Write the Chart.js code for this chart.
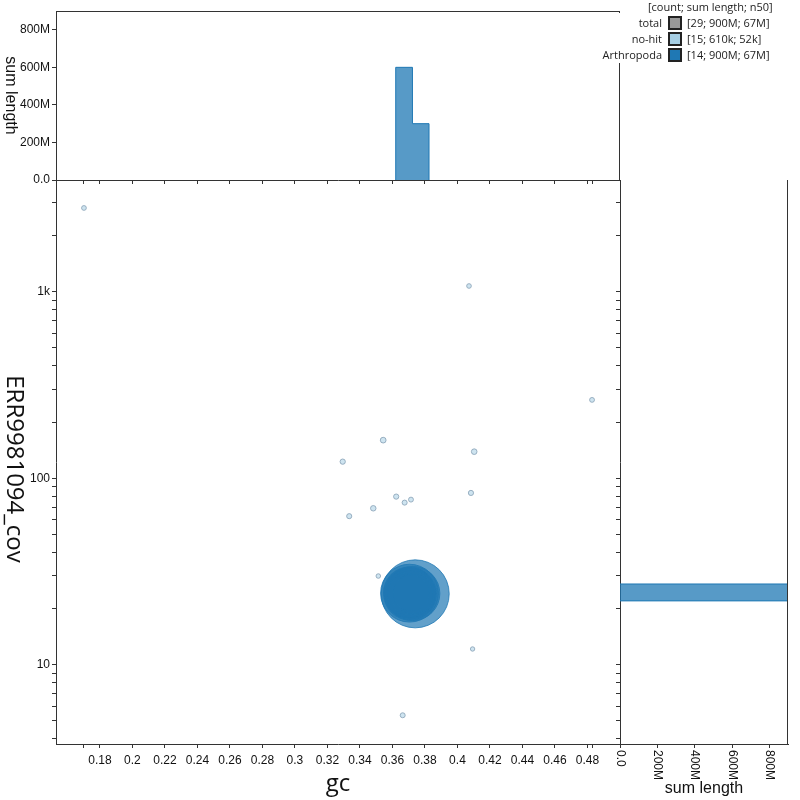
<!DOCTYPE html>
<html>
<head>
<meta charset="utf-8">
<title>ERR9981094 blob plot</title>
<script src="https://cdn.jsdelivr.net/npm/chart.js@4.4.1/dist/chart.umd.min.js"></script>
<style>
  html, body { margin: 0; padding: 0; background: #fff; }
  #wrap { position: relative; width: 800px; height: 800px; overflow: hidden; }
  #wrap canvas { position: absolute; left: 0; top: 0; }
  #legendBg { position: absolute; left: 598px; top: 13px; width: 200px; height: 50px; background: #fff; }
  .lg { position: absolute; font: 11px "Open Sans", sans-serif; color: #222; line-height: 14px; white-space: nowrap; }
  .lg-name { text-align: right; }
  .lg-box { position: absolute; width: 14px; height: 14px; box-sizing: border-box; border: 2px solid #222; }
</style>
</head>
<body>
<div id="wrap">
  <canvas id="topHist" width="800" height="800"></canvas>
  <canvas id="sideHist" width="800" height="800"></canvas>
  <canvas id="blobPlot" width="800" height="800"></canvas>
  <div id="legendBg"></div>
  <div id="legend"></div>
</div>
<script>
// contigs, no-hit
var noHitGc  = [0.1702, 0.4071, 0.4828, 0.3543, 0.3294, 0.4103, 0.4083, 0.3623, 0.3675, 0.3714, 0.3482, 0.3334, 0.3513, 0.4093, 0.3663];
var noHitCov = [2811, 1073, 263, 160, 122.7, 138.8, 83.4, 79.7, 74.0, 76.8, 69.0, 62.6, 29.9, 12.15, 5.36];
var noHitLen = [20e3, 15e3, 24e3, 98e3, 52e3, 85e3, 45e3, 48e3, 36e3, 28e3, 72e3, 40e3, 10e3, 5e3, 32e3];

// contigs, Arthropoda (largest first)
var arthLen = [130e6, 92e6, 80e6, 75e6, 70e6, 67e6, 62e6, 58e6, 54e6, 50e6, 46e6, 44e6, 40e6, 31.7e6];
var arthGc  = [0.3740, 0.3705, 0.3725, 0.3708, 0.3702, 0.3712, 0.3700, 0.3714, 0.3706, 0.3730, 0.3710, 0.3698, 0.3727, 0.3716];
var arthCov = [24.0, 24.2, 24.1, 24.0, 24.4, 23.9, 24.1, 24.5, 23.8, 24.3, 24.6, 23.9, 24.0, 24.2];

// histograms (sum length per bin)
var gcBinEdges = [0.362, 0.3723, 0.3825];
var gcBinSums = [600e6, 300e6];
var covBinEdges = [22.0, 27.1];
var covBinSums = [900e6];

// axes
var gcTicks = [0.18, 0.2, 0.22, 0.24, 0.26, 0.28, 0.3, 0.32, 0.34, 0.36, 0.38, 0.4, 0.42, 0.44, 0.46, 0.48];
var covTicks = [4, 5, 6, 7, 8, 9, 10, 20, 30, 40, 50, 60, 70, 80, 90, 100, 200, 300, 400, 500, 600, 700, 800, 900, 1000, 2000, 3000];
var covTickLabels = { 10: '10', 100: '100', 1000: '1k' };
var lengthTicks = [0, 2e8, 4e8, 6e8, 8e8];

var GC_MIN = 0.153, GC_MAX = 0.50;
var COV_MIN = 3.76, COV_MAX = 3970;
var LEN_MAX = 900e6;

var AXIS = '#333';
var TEXT = '#111';
var TICK_FONT = { family: '"Liberation Sans", Arial, sans-serif', size: 12 };
var ARTH = '#1f78b4';
var NOHIT = '#a6cee3';

var allGc = noHitGc.concat(arthGc);
var gcDomain = [Math.min.apply(null, allGc), Math.max.apply(null, allGc)];
var maxLen = Math.max.apply(null, arthLen.concat(noHitLen));

function radiusFor(len) { return 2 + 32 * Math.sqrt(len / maxLen); }
function fmtGc(v) { return String(Math.round(v * 100) / 100); }
function fmtLen(v) {
  if (v === 0) return '0.0';
  if (v >= 1e6) return Math.round(v / 1e6) + 'M';
  return Math.round(v / 1e3) + 'k';
}
function sum(a) { return a.reduce(function (s, v) { return s + v; }, 0); }
function n50(lens) {
  var s = lens.slice().sort(function (a, b) { return b - a; });
  var half = sum(s) / 2, acc = 0;
  for (var i = 0; i < s.length; i++) { acc += s[i]; if (acc >= half) return s[i]; }
  return 0;
}

function gcAxisTicks(scale) {
  scale.ticks = gcTicks.concat(gcDomain).sort(function (a, b) { return a - b; })
    .map(function (v) { return { value: v }; });
}
function gcTickLabel(v) {
  return gcTicks.some(function (t) { return Math.abs(t - v) < 1e-9; }) ? fmtGc(v) : '';
}
function covAxisTicks(scale) {
  scale.ticks = covTicks.map(function (v) { return { value: v }; });
}
function lenAxisTicks(scale) {
  scale.ticks = lengthTicks.map(function (v) { return { value: v }; });
}

var framePlugin = {
  id: 'frame',
  afterDraw: function (chart, args, opts) {
    var a = chart.chartArea, ctx = chart.ctx;
    ctx.save();
    ctx.strokeStyle = AXIS;
    ctx.lineWidth = 1;
    ctx.beginPath();
    if (opts.top) { ctx.moveTo(a.left, Math.round(a.top) + 0.5); ctx.lineTo(a.right, Math.round(a.top) + 0.5); }
    if (opts.right) { ctx.moveTo(Math.round(a.right) - 0.5, a.top); ctx.lineTo(Math.round(a.right) - 0.5, a.bottom); }
    ctx.stroke();
    ctx.restore();
  }
};

var vTitlePlugin = {
  id: 'vTitle',
  afterDraw: function (chart, args, opts) {
    if (!opts.text) return;
    var a = chart.chartArea, ctx = chart.ctx;
    ctx.save();
    ctx.font = opts.font;
    ctx.fillStyle = TEXT;
    ctx.textAlign = 'center';
    ctx.textBaseline = 'middle';
    ctx.translate(opts.x, (a.top + a.bottom) / 2 + (opts.shift || 0));
    ctx.rotate(Math.PI / 2);
    ctx.fillText(opts.text, 0, 0);
    ctx.restore();
  }
};

var rotLabelsPlugin = {
  id: 'rotLabels',
  afterDraw: function (chart) {
    var s = chart.scales.x, ctx = chart.ctx;
    ctx.save();
    ctx.font = '12px "Liberation Sans", Arial, sans-serif';
    ctx.fillStyle = TEXT;
    ctx.textAlign = 'left';
    ctx.textBaseline = 'middle';
    lengthTicks.forEach(function (v) {
      ctx.save();
      ctx.translate(s.getPixelForValue(v), s.top + 6);
      ctx.rotate(Math.PI / 2);
      ctx.fillText(fmtLen(v), 0, 0);
      ctx.restore();
    });
    ctx.restore();
  }
};

function axisGrid(len) {
  return { drawOnChartArea: false, drawTicks: true, tickLength: len, color: AXIS };
}

// top histogram: sum length by gc
var topPts = [{ x: gcBinEdges[0], y: 0 }];
gcBinSums.forEach(function (s, i) { topPts.push({ x: gcBinEdges[i], y: s }); });
topPts.push({ x: gcBinEdges[gcBinEdges.length - 1], y: 0 });

new Chart(document.getElementById('topHist'), {
  type: 'line',
  data: {
    datasets: [{
      data: topPts,
      stepped: true,
      fill: 'origin',
      borderColor: ARTH,
      borderWidth: 1,
      backgroundColor: 'rgba(31,120,180,0.75)',
      pointRadius: 0
    }]
  },
  options: {
    responsive: false,
    animation: false,
    events: [],
    layout: { padding: { left: 0, top: 11, right: 180, bottom: 620 } },
    plugins: {
      legend: { display: false },
      tooltip: { enabled: false },
      frame: { top: true, right: true },
      vTitle: { text: 'sum length', font: '16px "Liberation Sans", Arial, sans-serif', x: 10 }
    },
    scales: {
      x: {
        type: 'linear', min: GC_MIN, max: GC_MAX,
        afterBuildTicks: gcAxisTicks,
        afterFit: function (s) { s.height = 0; },
        ticks: { display: false },
        grid: axisGrid(4),
        border: { color: AXIS }
      },
      y: {
        type: 'linear', min: 0, max: LEN_MAX,
        afterBuildTicks: lenAxisTicks,
        afterFit: function (s) { s.width = 56; },
        ticks: { font: TICK_FONT, color: TEXT, padding: 2, callback: function (v) { return fmtLen(v); } },
        grid: axisGrid(4),
        border: { color: AXIS }
      }
    }
  },
  plugins: [framePlugin, vTitlePlugin]
});

// side histogram: sum length by coverage
var sideSets = [];
covBinSums.forEach(function (s, i) {
  sideSets.push({
    data: [{ x: 0, y: covBinEdges[i + 1] }, { x: s, y: covBinEdges[i + 1] }],
    fill: '+1',
    borderColor: ARTH, borderWidth: 1,
    backgroundColor: 'rgba(31,120,180,0.75)',
    pointRadius: 0
  });
  sideSets.push({
    data: [{ x: 0, y: covBinEdges[i] }, { x: s, y: covBinEdges[i] }],
    fill: false,
    borderColor: ARTH, borderWidth: 1,
    pointRadius: 0
  });
});

new Chart(document.getElementById('sideHist'), {
  type: 'line',
  data: { datasets: sideSets },
  options: {
    responsive: false,
    animation: false,
    events: [],
    layout: { padding: { left: 620, top: 180, right: 12, bottom: 0 } },
    plugins: {
      legend: { display: false },
      tooltip: { enabled: false },
      frame: { right: true }
    },
    scales: {
      x: {
        type: 'linear', min: 0, max: LEN_MAX,
        afterBuildTicks: lenAxisTicks,
        afterFit: function (s) { s.height = 56; },
        ticks: { display: false },
        grid: axisGrid(4),
        border: { color: AXIS },
        title: { display: true, text: 'sum length', color: TEXT, font: { family: '"Liberation Sans", Arial, sans-serif', size: 16 }, padding: { top: 0, bottom: 2 } }
      },
      y: {
        type: 'logarithmic', min: COV_MIN, max: COV_MAX,
        afterBuildTicks: covAxisTicks,
        afterFit: function (s) { s.width = 0; },
        ticks: { display: false },
        grid: axisGrid(4),
        border: { color: AXIS }
      }
    }
  },
  plugins: [framePlugin, rotLabelsPlugin]
});

// main blob plot
function points(gc, cov) {
  return gc.map(function (g, i) { return { x: g, y: cov[i] }; });
}

new Chart(document.getElementById('blobPlot'), {
  type: 'scatter',
  data: {
    datasets: [{
      label: 'no-hit',
      data: points(noHitGc, noHitCov),
      backgroundColor: 'rgba(166,206,227,0.55)',
      borderColor: 'rgba(140,165,185,0.85)',
      borderWidth: 1,
      pointRadius: function (c) { return radiusFor(noHitLen[c.dataIndex]); }
    }, {
      label: 'Arthropoda',
      data: points(arthGc, arthCov),
      backgroundColor: 'rgba(31,120,180,0.7)',
      borderColor: 'rgba(31,120,180,0.8)',
      borderWidth: 1,
      pointRadius: function (c) { return radiusFor(arthLen[c.dataIndex]); }
    }]
  },
  options: {
    responsive: false,
    animation: false,
    events: [],
    layout: { padding: { left: 0, top: 180, right: 180, bottom: 0 } },
    plugins: {
      legend: { display: false },
      tooltip: { enabled: false },
      vTitle: { text: 'ERR9981094_cov', font: '24px "Open Sans", sans-serif', x: 14, shift: 7 }
    },
    scales: {
      x: {
        type: 'linear', min: GC_MIN, max: GC_MAX,
        afterBuildTicks: gcAxisTicks,
        afterFit: function (s) { s.height = 56; },
        ticks: { font: TICK_FONT, color: TEXT, padding: 5, autoSkip: false, maxRotation: 0, callback: gcTickLabel },
        grid: axisGrid(4),
        border: { color: AXIS },
        title: { display: true, text: 'gc', color: TEXT, font: { family: '"Open Sans", sans-serif', size: 24 }, padding: { top: 0, bottom: 1 } }
      },
      y: {
        type: 'logarithmic', min: COV_MIN, max: COV_MAX,
        afterBuildTicks: covAxisTicks,
        afterFit: function (s) { s.width = 56; },
        ticks: { font: TICK_FONT, color: TEXT, padding: 2, autoSkip: false, callback: function (v) { return covTickLabels[v] || ''; } },
        grid: axisGrid(4),
        border: { color: AXIS }
      }
    }
  },
  plugins: [vTitlePlugin]
});

// legend
var legendRows = [
  { name: 'total', color: '#999999', lens: noHitLen.concat(arthLen) },
  { name: 'no-hit', color: NOHIT, lens: noHitLen },
  { name: 'Arthropoda', color: ARTH, lens: arthLen }
];
var legend = document.getElementById('legend');
function addEl(cls, text, css) {
  var el = document.createElement('div');
  el.className = cls;
  if (text) el.textContent = text;
  for (var k in css) el.style[k] = css[k];
  legend.appendChild(el);
  return el;
}
addEl('lg', '[count; sum length; n50]', { left: '648px', top: '0px' });
legendRows.forEach(function (r, i) {
  var top = 16 + i * 16;
  addEl('lg lg-name', r.name, { right: '138px', top: top + 'px' });
  addEl('lg-box', '', { left: '668px', top: top + 'px', background: r.color });
  addEl('lg', '[' + r.lens.length + '; ' + fmtLen(sum(r.lens)) + '; ' + fmtLen(n50(r.lens)) + ']', { left: '687px', top: top + 'px' });
});
</script>
</body>
</html>
